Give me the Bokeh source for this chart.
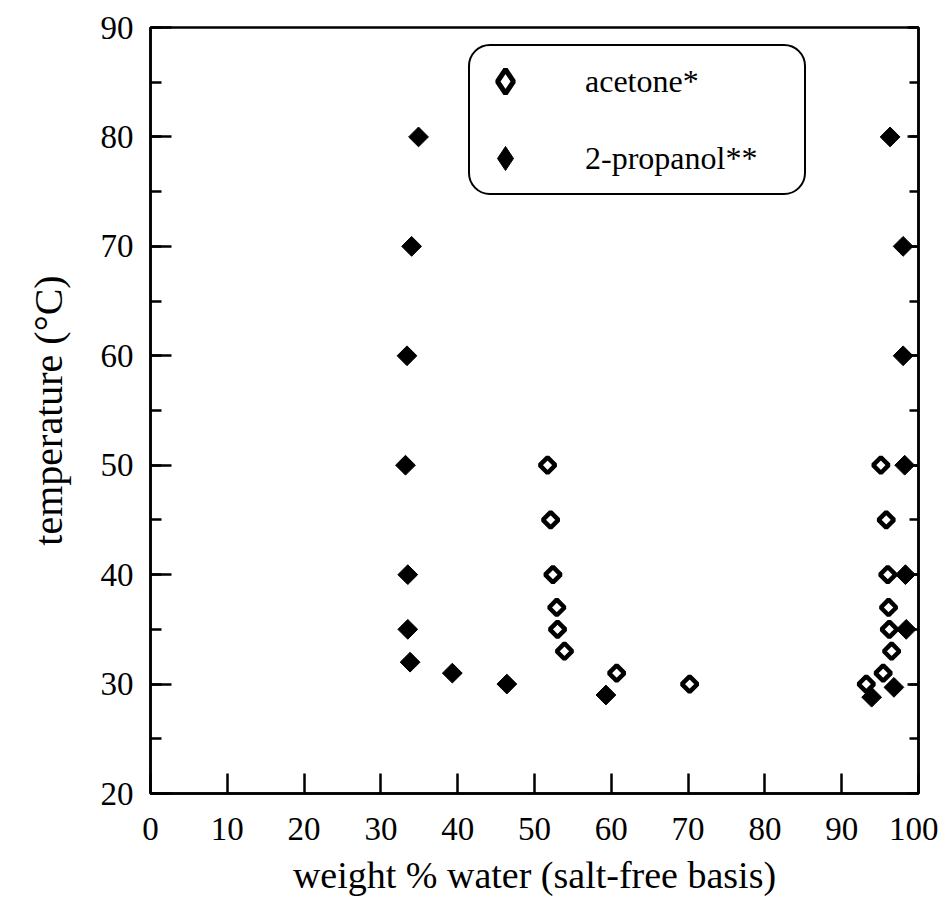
import numpy as np
from bokeh.plotting import figure
from bokeh.models import LinearAxis, FixedTicker, Legend, LegendItem, Range1d
from bokeh.embed import file_html
from bokeh.resources import INLINE

# ---- data ----
acetone_x = [51.7, 52.1, 52.4, 52.9, 53.0, 53.9, 60.7, 70.2, 93.2, 95.4, 96.5, 96.2, 96.1, 96.0, 95.8, 95.1]
acetone_y = [50, 45, 40, 37, 35, 33, 31, 30, 30, 31, 33, 35, 37, 40, 45, 50]

propanol_x = [34.9, 34.0, 33.4, 33.2, 33.5, 33.5, 33.8, 39.3, 46.4, 59.3, 93.9, 96.8, 98.4, 98.3, 98.2, 98.0, 98.0, 96.3]
propanol_y = [80, 70, 60, 50, 40, 35, 32, 31, 30, 29, 28.8, 29.7, 35, 40, 50, 60, 70, 80]

x_ticks = [0, 10, 20, 30, 40, 50, 60, 70, 80, 90, 100]
y_ticks = [20, 30, 40, 50, 60, 70, 80, 90]
y_minor = [20, 25, 30, 35, 40, 45, 50, 55, 60, 65, 70, 75, 80, 85, 90]

x_label = "weight % water (salt-free basis)"
y_label = "temperature (°C)"
series_names = ["acetone*", "2-propanol**"]

FONT = "Liberation Serif"
LW = 2.5
NAN = [float("nan")]

p = figure(frame_width=768, frame_height=766,
           x_range=Range1d(0, 100), y_range=Range1d(20, 90),
           output_backend="svg", toolbar_location=None,
           min_border_left=150, min_border_right=20,
           min_border_top=27, min_border_bottom=118)

p.grid.visible = False
p.outline_line_color = "black"
p.outline_line_width = LW
p.background_fill_color = "white"
p.border_fill_color = "white"

# bottom axis
xa = p.xaxis[0]
xa.ticker = FixedTicker(ticks=x_ticks, minor_ticks=[])
xa.major_tick_in = 20
xa.major_tick_out = 0
xa.minor_tick_in = 0
xa.minor_tick_out = 0
xa.axis_line_width = LW
xa.major_tick_line_width = LW
xa.major_label_text_font = FONT
xa.major_label_text_font_size = "33px"
xa.major_label_text_color = "black"
xa.major_label_standoff = 24
xa.axis_label = x_label
xa.axis_label_text_font = FONT
xa.axis_label_text_font_size = "38px"
xa.axis_label_text_font_style = "normal"
xa.axis_label_text_color = "black"
xa.axis_label_standoff = 11

# left axis
ya = p.yaxis[0]
ya.ticker = FixedTicker(ticks=y_ticks, minor_ticks=y_minor)
ya.major_tick_in = 21
ya.major_tick_out = 0
ya.minor_tick_in = 11
ya.minor_tick_out = 0
ya.axis_line_width = LW
ya.major_tick_line_width = LW
ya.minor_tick_line_width = LW
ya.major_label_text_font = FONT
ya.major_label_text_font_size = "33px"
ya.major_label_text_color = "black"
ya.major_label_standoff = 17
ya.axis_label = y_label
ya.axis_label_text_font = FONT
ya.axis_label_text_font_size = "40px"
ya.axis_label_text_font_style = "normal"
ya.axis_label_text_color = "black"
ya.axis_label_standoff = 27

# right axis (ticks only, no labels)
ra = LinearAxis(ticker=FixedTicker(ticks=y_ticks, minor_ticks=y_minor),
                major_tick_in=11, major_tick_out=0,
                minor_tick_in=9, minor_tick_out=0,
                axis_line_width=LW, major_tick_line_width=LW, minor_tick_line_width=LW,
                major_label_overrides={t: "" for t in y_ticks},
                major_label_standoff=0)
p.add_layout(ra, "right")

ac = p.scatter(acetone_x, acetone_y, marker="square", size=11, angle=np.pi / 4,
               fill_color="white", line_color="black", line_width=4.5)
pr = p.scatter(propanol_x, propanol_y, marker="square", size=14, angle=np.pi / 4,
               fill_color="black", line_color="black", line_width=1)

# legend swatches (Bokeh legends do not rotate markers, so use the diamond marker)
ac_key = p.scatter(x=NAN, y=NAN, marker="diamond", fill_color="white",
                   line_color="black", line_width=5)
pr_key = p.scatter(x=NAN, y=NAN, marker="diamond", fill_color="black",
                   line_color="black", line_width=1)

legend = Legend(items=[LegendItem(label=series_names[0], renderers=[ac_key]),
                       LegendItem(label=series_names[1], renderers=[pr_key])],
                location=(318, 598),
                padding=5, spacing=17,
                glyph_width=60, glyph_height=60,
                label_height=60, label_width=214, label_standoff=50,
                label_text_font=FONT, label_text_font_size="32px",
                label_text_color="black",
                border_line_color="black", border_line_width=LW, border_line_alpha=1.0,
                background_fill_color="white", background_fill_alpha=1.0,
                margin=0)
if "border_radius" in Legend.properties():
    legend.border_radius = 22
p.add_layout(legend, "center")

open("out.html", "w").write(file_html(p, INLINE))
